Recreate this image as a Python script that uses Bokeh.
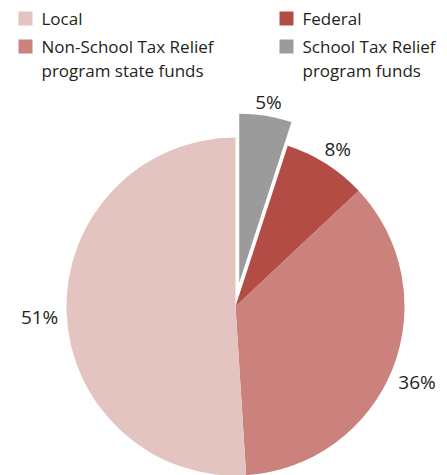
import math
from bokeh.plotting import figure
from bokeh.models import Range1d
from bokeh.core.properties import value
from bokeh.embed import file_html
from bokeh.resources import INLINE

# ---- data ----
slice_names = ["School Tax Relief\nprogram funds", "Federal",
               "Non-School Tax Relief\nprogram state funds", "Local"]
slice_shares = [5, 8, 36, 51]
slice_colors = ["#9B9B9B", "#B24C44", "#CC827C", "#E4C4C0"]
slice_explode = [24, 0, 0, 0]
legend_order = ["Local", "Federal",
                "Non-School Tax Relief\nprogram state funds",
                "School Tax Relief\nprogram funds"]

# ---- layout ----
W, H = 447, 475
CX, CY, R = 235, H - 306, 169
FONT = "Open Sans"
TEXT_COLOR = "#231F20"

p = figure(width=W, height=H, x_range=Range1d(0, W), y_range=Range1d(0, H),
           output_backend="svg", toolbar_location=None, min_border=0)
p.axis.visible = False
p.grid.visible = False
p.outline_line_color = None

total = sum(slice_shares)
cum = 0
xs, ys, starts, ends, lx, ly, ltxt = [], [], [], [], [], [], []
for share, ex in zip(slice_shares, slice_explode):
    a0 = cum / total * 2 * math.pi
    cum += share
    a1 = cum / total * 2 * math.pi
    mid = (a0 + a1) / 2
    dx, dy = math.sin(mid), math.cos(mid)
    xs.append(CX + ex * dx)
    ys.append(CY + ex * dy)
    starts.append(math.pi / 2 - a1)
    ends.append(math.pi / 2 - a0)
    lr = R + ex + 16 + 11 * abs(dx)
    lx.append(CX + lr * dx)
    ly.append(CY + lr * dy - 4)
    ltxt.append(f"{share}%")

p.wedge(x=xs, y=ys, radius=R, start_angle=starts, end_angle=ends,
        direction="anticlock", fill_color=slice_colors, line_color=None)

p.text(x=lx, y=ly, text=ltxt, text_align="center", text_baseline="middle",
       text_font=value(FONT), text_font_size="19px", text_color=TEXT_COLOR)

# ---- legend (two columns) ----
col_sq_x = [25, 286]
col_tx_x = [41, 302]
row_sq_y = [18, 46]
row_base_y = [18, 45.5]
LINE_H = 24
color_of = dict(zip(slice_names, slice_colors))
sqx, sqy, sqc, tx, ty, tt = [], [], [], [], [], []
for i, name in enumerate(legend_order):
    c, r = i % 2, i // 2
    sqx.append(col_sq_x[c])
    sqy.append(H - row_sq_y[r])
    sqc.append(color_of[name])
    for j, line in enumerate(name.split("\n")):
        tx.append(col_tx_x[c])
        ty.append(H - (row_base_y[r] + j * LINE_H))
        tt.append(line)

p.rect(x=sqx, y=sqy, width=14, height=14, fill_color=sqc, line_color=None)
p.text(x=tx, y=ty, text=tt, text_align="left", text_baseline="alphabetic",
       text_font=value(FONT), text_font_size="17px", text_color=TEXT_COLOR)

open("out.html", "w").write(file_html(p, INLINE))
